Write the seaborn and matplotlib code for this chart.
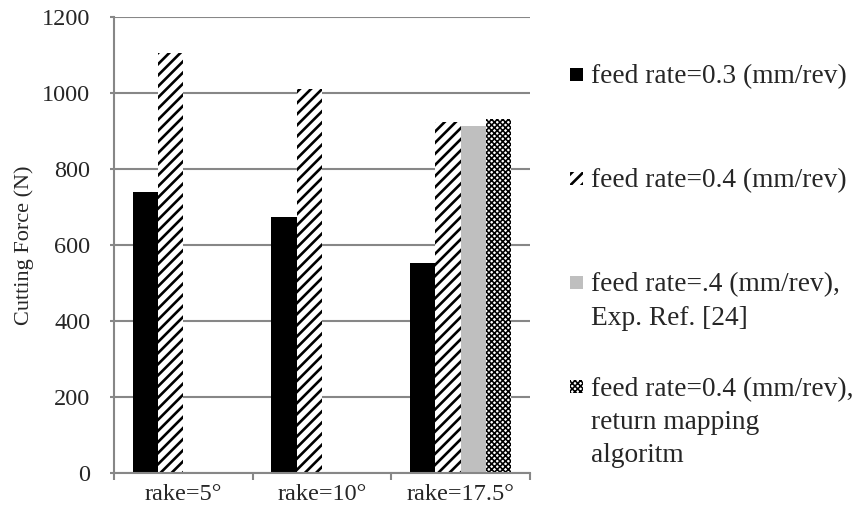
import numpy as np
import pandas as pd
import seaborn as sns
import matplotlib
matplotlib.use("Agg")
import matplotlib.pyplot as plt
import matplotlib.transforms as mtransforms
from matplotlib.patches import Rectangle
from matplotlib.legend_handler import HandlerPatch

# ---- data ----
categories = ["rake=5°", "rake=10°", "rake=17.5°"]
series_names = [
    "feed rate=0.3 (mm/rev)",
    "feed rate=0.4 (mm/rev)",
    "feed rate=.4 (mm/rev),\nExp. Ref. [24]",
    "feed rate=0.4 (mm/rev),\nreturn mapping\nalgoritm",
]
feed03 = [739, 674, 553]
feed04 = [1105, 1011, 924]
exp_ref = [np.nan, np.nan, 913]
return_map = [np.nan, np.nan, 931]
y_ticks = [0, 200, 400, 600, 800, 1000, 1200]

values = [feed03, feed04, exp_ref, return_map]
rows = []
for name, vals in zip(series_names, values):
    for cat, v in zip(categories, vals):
        rows.append({"rake": cat, "series": name, "force": v})
df = pd.DataFrame(rows)

sns.set_style("white")
plt.rcParams["font.family"] = ["Liberation Serif", "DejaVu Serif"]
plt.rcParams["hatch.linewidth"] = 1.9

fig = plt.figure(figsize=(8.56, 5.16), dpi=100)
ax = fig.add_axes([0.133, 0.0833, 0.486, 0.8837])

face = ["black", "white", "#BFBFBF", "white"]
sns.barplot(data=df, x="rake", y="force", hue="series", order=categories,
            hue_order=series_names, palette=face, width=0.73, ax=ax,
            legend=False, saturation=1, errorbar=None)

hatches = [None, "///", None, "xxxxxx"]
hatch_lw = [1.0, 1.9, 1.0, 1.15]
for i, cont in enumerate(ax.containers):
    for p in cont:
        p.set_linewidth(0)
        p.set_edgecolor("black")
        if hatches[i]:
            p.set_hatch(hatches[i])
            try:
                p.set_hatch_linewidth(hatch_lw[i])
            except Exception:
                pass

grid_c = "#878787"
ax.set_ylim(0, 1200)
ax.set_yticks(y_ticks)
ax.set_xlim(-0.5, 2.5)
ax.yaxis.grid(True, color=grid_c, linewidth=1.5)
ax.set_axisbelow(True)
for s in ["top", "right"]:
    ax.spines[s].set_visible(False)
for s in ["left", "bottom"]:
    ax.spines[s].set_color(grid_c)
    ax.spines[s].set_linewidth(1.5)
ax.tick_params(axis="y", which="major", length=3, width=1.5, color=grid_c,
               labelsize=17.5, pad=14, left=True)
ax.set_xticks([0, 1, 2])
ax.set_xticklabels(categories)
ax.set_xticks([-0.5, 0.5, 1.5, 2.5], minor=True)
ax.tick_params(axis="x", which="major", length=0, labelsize=17.5, pad=8)
ax.tick_params(axis="x", which="minor", length=5, width=1.5, color=grid_c, bottom=True)
ax.set_xlabel("")
ax.set_ylabel("Cutting Force (N)", fontsize=16, labelpad=6)

legend_fs = 19.7


class SquareHandler(HandlerPatch):
    def create_artists(self, legend, orig_handle, xdescent, ydescent,
                       width, height, fontsize, trans):
        size = 0.475 * fontsize
        y0 = 0.33 * fontsize - size / 2
        p = Rectangle((-xdescent, y0), size, size,
                      facecolor=orig_handle.get_facecolor(),
                      edgecolor="black", linewidth=0,
                      hatch=orig_handle.get_hatch(), transform=trans)
        try:
            p.set_hatch_linewidth(orig_handle._hatch_lw_custom)
        except Exception:
            pass
        return [p]


first_lines = [n.split("\n")[0] for n in series_names]
continuations = [n.split("\n")[1:] for n in series_names]

handles = []
for i, name in enumerate(series_names):
    h = Rectangle((0, 0), 1, 1, facecolor=face[i], edgecolor="black",
                  linewidth=0, hatch=hatches[i])
    h._hatch_lw_custom = hatch_lw[i]
    handles.append(h)

leg = fig.legend(handles, first_lines,
                 handler_map={Rectangle: SquareHandler()},
                 loc="upper left", bbox_to_anchor=(0.666, 0.876),
                 frameon=False, fontsize=legend_fs, labelspacing=2.89,
                 handlelength=0.475, handleheight=0.7, handletextpad=0.29,
                 borderpad=0, borderaxespad=0)

fig.canvas.draw()
line_h = 24.0
for t, cont in zip(leg.get_texts(), continuations):
    for k, line in enumerate(cont, 1):
        off = mtransforms.ScaledTranslation(0, -k * line_h / 72, fig.dpi_scale_trans)
        fig.text(0, 0, line, transform=t.get_transform() + off,
                 fontsize=legend_fs, va="baseline", ha="left")

fig.savefig("out.png", dpi=100)
